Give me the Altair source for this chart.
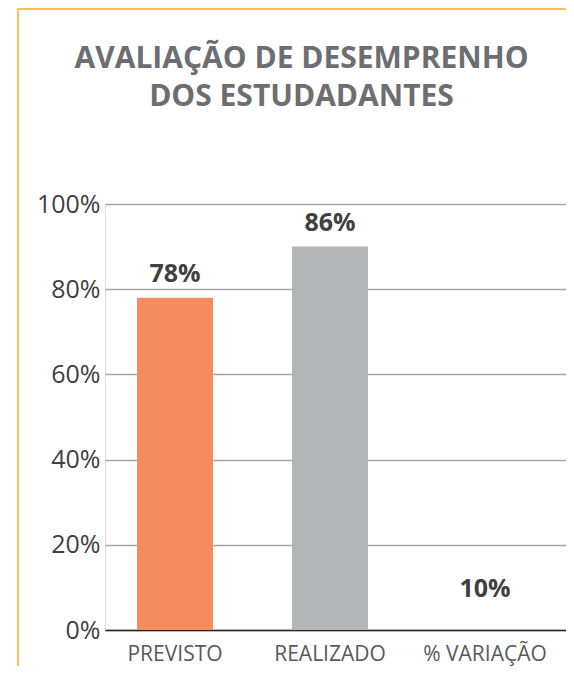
import altair as alt
import pandas as pd

categories = ["PREVISTO", "REALIZADO", "% VARIAÇÃO"]
bar_values = [78, 90, 10]
bar_labels = ["78%", "86%", "10%"]
bar_colors = ["#F58B5E", "#B4B5B7", "rgba(0,0,0,0)"]
y_ticks = [0, 20, 40, 60, 80, 100]
title_lines = ["AVALIAÇÃO DE DESEMPRENHO", "DOS ESTUDADANTES"]

df = pd.DataFrame({"category": categories, "value": bar_values, "label": bar_labels})

W, H = 461, 426
FONT = "Open Sans"

x_enc = alt.X(
    "category:N",
    sort=categories,
    scale=alt.Scale(paddingInner=0.51, paddingOuter=0.242, align=0.427),
    axis=alt.Axis(
        title=None, labelAngle=0, ticks=False, domain=True,
        domainColor="#262626", domainWidth=1.5,
        labelFont=FONT, labelFontSize=21, labelColor="#595959",
        labelPadding=13, labelBaseline="top",
    ),
)
y_enc = alt.Y(
    "value:Q",
    scale=alt.Scale(domain=[0, 100], nice=False),
    axis=alt.Axis(
        title=None, values=y_ticks, labelExpr="datum.value + '%'",
        domain=False, ticks=False, grid=True, gridColor="#A6A6A6", gridWidth=1.5,
        labelFont=FONT, labelFontSize=25, labelColor="#404040", labelPadding=5,
    ),
)

base = alt.Chart(df)

bars = base.mark_bar().encode(
    x=x_enc,
    y=y_enc,
    color=alt.Color("category:N", scale=alt.Scale(domain=categories, range=bar_colors), legend=None),
)

labels_top = base.transform_filter(alt.datum.category != "% VARIAÇÃO").mark_text(
    font=FONT, fontSize=25, fontWeight="bold", color="#404040", baseline="alphabetic", dy=-16
).encode(x=alt.X("category:N", sort=categories), y="value:Q", text="label:N")

labels_var = base.transform_filter(alt.datum.category == "% VARIAÇÃO").mark_text(
    font=FONT, fontSize=25, fontWeight="bold", color="#404040", baseline="alphabetic", dy=10
).encode(x=alt.X("category:N", sort=categories), y="value:Q", text="label:N")

border_left = alt.Chart(df.head(1)).mark_rule(color="#FBBF5F", strokeWidth=2).encode(
    x=alt.value(-87), y=alt.value(-195), y2=alt.value(480)
)
border_top = alt.Chart(df.head(1)).mark_rule(color="#FBBF5F", strokeWidth=2).encode(
    x=alt.value(-88), x2=alt.value(W + 5), y=alt.value(-195)
)

chart = alt.layer(bars, labels_top, labels_var, border_left, border_top).properties(
    width=W,
    height=H,
    autosize=alt.AutoSizeParams(type="none"),
    padding={"left": 97, "top": 196, "right": 0, "bottom": 36},
    title=alt.TitleParams(
        text=title_lines, font=FONT, fontSize=30, fontWeight="bold", color="#6D6E71",
        anchor="middle", dx=-34, offset=-128, lineHeight=38, baseline="alphabetic",
    ),
).configure_view(stroke=None).configure(background="white")

chart.save("out.html", embed_options={"renderer": "svg", "actions": False})
